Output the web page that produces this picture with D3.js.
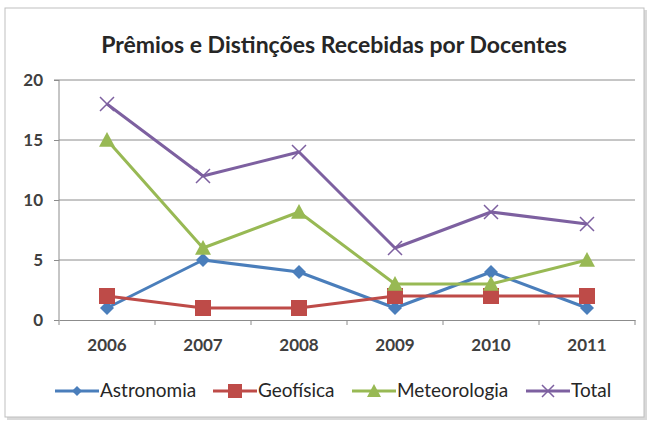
<!DOCTYPE html>
<html><head><meta charset="utf-8">
<script src="https://cdn.jsdelivr.net/npm/d3@7"></script>
<style>body{margin:0;background:#fff;}svg{display:block;}</style>
</head><body>
<script>
const years = ["2006","2007","2008","2009","2010","2011"];
const astronomia = [1,5,4,1,4,1];
const geofisica = [2,1,1,2,2,2];
const meteorologia = [15,6,9,3,3,5];
const total = [18,12,14,6,9,8];
const yTicks = [0,5,10,15,20];
const seriesNames = ["Astronomia","Geofísica","Meteorologia","Total"];
const seriesColors = ["#4A7EBB","#BE4B48","#98B954","#7D60A0"];
const seriesShapes = ["diamond","square","triangle","x"];
const seriesData = [astronomia, geofisica, meteorologia, total];

const W=653,H=424;
const svg=d3.select("body").append("svg").attr("width",W).attr("height",H);
const font="Lato, 'Open Sans', sans-serif";

// outer frame
svg.append("rect").attr("x",7).attr("y",10).attr("width",640).attr("height",410).attr("fill","#d9d9d9");
svg.append("rect").attr("x",5).attr("y",8).attr("width",639).attr("height",409).attr("fill","#fff").attr("stroke","#bfbfbf");

const L=59,R=635,T=80,B=320;
const x=d3.scaleBand().domain(years).range([L,R]);
const y=d3.scaleLinear().domain([0,20]).range([B,T]);

// gridlines
svg.append("g").selectAll("line").data(yTicks.filter(d=>d>0)).join("line")
 .attr("x1",L).attr("x2",R).attr("y1",d=>y(d)).attr("y2",d=>y(d))
 .attr("stroke","#8c8c8c").attr("stroke-width",1);

// y axis
const ya=svg.append("g").attr("transform",`translate(${L},0)`)
 .call(d3.axisLeft(y).tickValues(yTicks).tickSize(5).tickPadding(11));
ya.select(".domain").attr("stroke","#8c8c8c").attr("d",`M-5,${T}H0V${B}`);
ya.selectAll(".tick line").attr("stroke","#8c8c8c");
ya.selectAll("text").attr("font-family",font).attr("font-size",17).attr("font-weight","bold").attr("fill","#404040");

// x axis
const xa=svg.append("g").attr("transform",`translate(0,${B})`)
 .call(d3.axisBottom(x).tickSize(0).tickPadding(19));
xa.select(".domain").attr("stroke","#8c8c8c");
xa.selectAll("text").attr("font-family",font).attr("font-size",17).attr("font-weight","bold").attr("fill","#404040");
svg.append("g").selectAll("line").data(d3.range(years.length+1)).join("line")
 .attr("x1",i=>L+i*x.step()).attr("x2",i=>L+i*x.step()).attr("y1",B).attr("y2",B+5)
 .attr("stroke","#8c8c8c");

// title
svg.append("text").attr("x",334).attr("y",53).attr("text-anchor","middle")
 .attr("font-family",font).attr("font-size",23).attr("font-weight","bold").attr("fill","#262626")
 .text("Prêmios e Distinções Recebidas por Docentes");

function marker(g,shape,color,cx,cy,s){
  if(shape==="diamond"){
    g.append("path").attr("d",`M${cx},${cy-s}L${cx+s},${cy}L${cx},${cy+s}L${cx-s},${cy}Z`).attr("fill",color);
  } else if(shape==="square"){
    g.append("rect").attr("x",cx-s).attr("y",cy-s).attr("width",2*s).attr("height",2*s).attr("fill",color);
  } else if(shape==="triangle"){
    g.append("path").attr("d",`M${cx},${cy-s}L${cx+s},${cy+s*0.85}L${cx-s},${cy+s*0.85}Z`).attr("fill",color);
  } else {
    g.append("path").attr("d",`M${cx-s},${cy-s}L${cx+s},${cy+s}M${cx-s},${cy+s}L${cx+s},${cy-s}`).attr("stroke",color).attr("stroke-width",1.5);
  }
}

const line=d3.line().x((d,i)=>x(years[i])+x.bandwidth()/2).y(d=>y(d));
seriesData.forEach((data,k)=>{
  const g=svg.append("g");
  g.append("path").datum(data).attr("d",line).attr("fill","none")
   .attr("stroke",seriesColors[k]).attr("stroke-width",3).attr("stroke-linejoin","round");
  const sz=[7,8,8,7][k];
  data.forEach((v,i)=>marker(g,seriesShapes[k],seriesColors[k],x(years[i])+x.bandwidth()/2,y(v),sz));
});

// legend
const legX=[55,213,352,526];
const ly=391;
seriesNames.forEach((n,k)=>{
  const g=svg.append("g");
  g.append("line").attr("x1",legX[k]).attr("x2",legX[k]+44).attr("y1",ly).attr("y2",ly)
   .attr("stroke",seriesColors[k]).attr("stroke-width",3);
  marker(g,seriesShapes[k],seriesColors[k],legX[k]+22,ly,[5,7,7,6][k]);
  g.append("text").attr("x",legX[k]+45).attr("y",ly+6).attr("font-family",font).attr("font-size",19)
   .attr("fill","#262626").text(n);
});
</script>
</body></html>
